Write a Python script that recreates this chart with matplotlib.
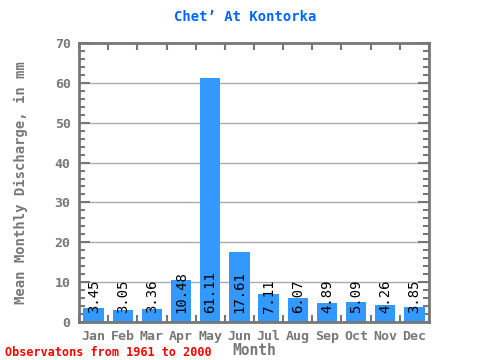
import matplotlib
matplotlib.use("Agg")
import matplotlib.pyplot as plt
from matplotlib.ticker import MultipleLocator

MONTHS = ["Jan", "Feb", "Mar", "Apr", "May", "Jun", "Jul", "Aug", "Sep", "Oct", "Nov", "Dec"]
DISCHARGE = [3.45, 3.05, 3.36, 10.48, 61.11, 17.61, 7.11, 6.07, 4.89, 5.09, 4.26, 3.85]
VALUE_LABELS = ["3.45", "3.05", "3.36", "10.48", "61.11", "17.61", "7.11", "6.07", "4.89", "5.09", "4.26", "3.85"]

GREY = "#777777"
FONT = "DejaVu Sans Mono"

fig = plt.figure(figsize=(4.8, 3.6), dpi=100)
ax = fig.add_axes([79 / 480, 1 - 322 / 360, 350 / 480, 279 / 360])

x = list(range(len(MONTHS)))
ax.bar(x, DISCHARGE, width=0.7, color="#3399ff", zorder=2)
for xi, lab in zip(x, VALUE_LABELS):
    ax.text(xi, 2.2, lab, rotation=90, ha="center", va="bottom",
            fontsize=10, family=FONT, color="black", zorder=3)

ax.set_xlim(-0.5, 11.5)
ax.set_ylim(0, 70)
ax.yaxis.set_major_locator(MultipleLocator(10))
ax.yaxis.set_minor_locator(MultipleLocator(2))
ax.set_xticks(x)
ax.set_xticklabels(MONTHS)
ax.set_xticks([i + 0.5 for i in range(-1, 12)], minor=True)
ax.grid(axis="y", color="#aaaaaa", linewidth=1, zorder=1)

for s in ax.spines.values():
    s.set_color(GREY)
    s.set_linewidth(2)

ax.tick_params(axis="x", which="major", length=0, pad=6, labelsize=9.5, labelcolor=GREY)
ax.tick_params(axis="x", which="minor", direction="in", length=5, width=1.5, color=GREY,
               top=True, bottom=True)
ax.tick_params(axis="y", which="major", direction="in", length=8, width=1.5, color=GREY,
               left=True, right=True, labelsize=9.5, labelcolor=GREY, pad=6)
ax.tick_params(axis="y", which="minor", direction="in", length=4, width=1.5, color=GREY,
               left=True, right=True)
for lab in ax.get_xticklabels() + ax.get_yticklabels():
    lab.set_family(FONT)
    lab.set_fontweight("bold")

ax.set_xlabel("Month", family=FONT, fontsize=10.5, fontweight="bold", color=GREY, labelpad=0)
ax.set_ylabel("Mean Monthly Discharge, in mm", family=FONT, fontsize=10,
              fontweight="bold", color=GREY, labelpad=19)
fig.text(0.51, 1 - 17 / 360, "Chet\u2019 At Kontorka", ha="center", va="center",
         family=FONT, fontsize=10, fontweight="bold", color="#0066ff")
fig.text(5 / 480, 1 - 352 / 360, "Observatons from 1961 to 2000", ha="left", va="center",
         family=FONT, fontsize=8.5, fontweight="bold", color="red")

fig.savefig("out.png", dpi=100)
